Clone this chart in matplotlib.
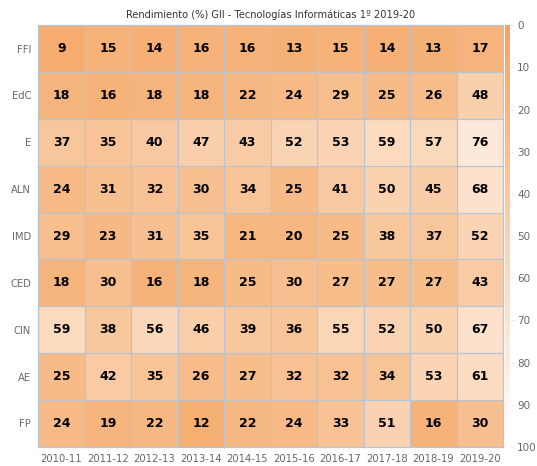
import numpy as np
import matplotlib.pyplot as plt
from matplotlib.colors import LinearSegmentedColormap

asignaturas = ['FFI', 'EdC', 'E', 'ALN', 'IMD', 'CED', 'CIN', 'AE', 'FP']
cursos = ['2010-11', '2011-12', '2012-13', '2013-14', '2014-15',
          '2015-16', '2016-17', '2017-18', '2018-19', '2019-20']

ffi = [9, 15, 14, 16, 16, 13, 15, 14, 13, 17]
edc = [18, 16, 18, 18, 22, 24, 29, 25, 26, 48]
e = [37, 35, 40, 47, 43, 52, 53, 59, 57, 76]
aln = [24, 31, 32, 30, 34, 25, 41, 50, 45, 68]
imd = [29, 23, 31, 35, 21, 20, 25, 38, 37, 52]
ced = [18, 30, 16, 18, 25, 30, 27, 27, 27, 43]
cin = [59, 38, 56, 46, 39, 36, 55, 52, 50, 67]
ae = [25, 42, 35, 26, 27, 32, 32, 34, 53, 61]
fp = [24, 19, 22, 12, 22, 24, 33, 51, 16, 30]

datos = np.array([ffi, edc, e, aln, imd, ced, cin, ae, fp])

cmap = LinearSegmentedColormap.from_list('naranja', ['#f4a460', '#ffffff'])

fig = plt.figure(figsize=(5.37, 4.66), dpi=100)
ax = fig.add_axes([0.071, 0.041, 0.866, 0.905])
cax = fig.add_axes([0.941, 0.041, 0.009, 0.905])

m = ax.pcolormesh(datos, cmap=cmap, vmin=0, vmax=100)
ax.set_xlim(0, len(cursos))
ax.set_ylim(len(asignaturas), 0)

# rejilla entre celdas
for k in range(len(cursos) + 1):
    ax.axvline(k, color='#b8c4d4', lw=0.9, clip_on=False)
for k in range(len(asignaturas) + 1):
    ax.axhline(k, color='#b8c4d4', lw=0.9, clip_on=False)

for i in range(len(asignaturas)):
    for j in range(len(cursos)):
        ax.text(j + 0.5, i + 0.5, str(datos[i, j]), ha='center', va='center',
                fontsize=9, fontweight='bold', color='black')

ax.set_xticks(np.arange(len(cursos)) + 0.5)
ax.set_xticklabels(cursos)
ax.set_yticks(np.arange(len(asignaturas)) + 0.5)
ax.set_yticklabels(asignaturas)
ax.tick_params(length=0, labelsize=7.2, labelcolor='#666666', pad=5)
for s in ax.spines.values():
    s.set_visible(False)
ax.set_title('Rendimiento (%) GII - Tecnologías Informáticas 1º 2019-20',
             fontsize=7.1, color='#333333', pad=5)

cb = fig.colorbar(m, cax=cax)
cb.outline.set_visible(False)
cb.set_ticks(np.arange(0, 101, 10))
cax.invert_yaxis()
cax.tick_params(length=3, width=0.5, color='#e0e0e0', labelsize=7.5,
                labelcolor='#666666', pad=2)

fig.savefig('out.png', dpi=100)
